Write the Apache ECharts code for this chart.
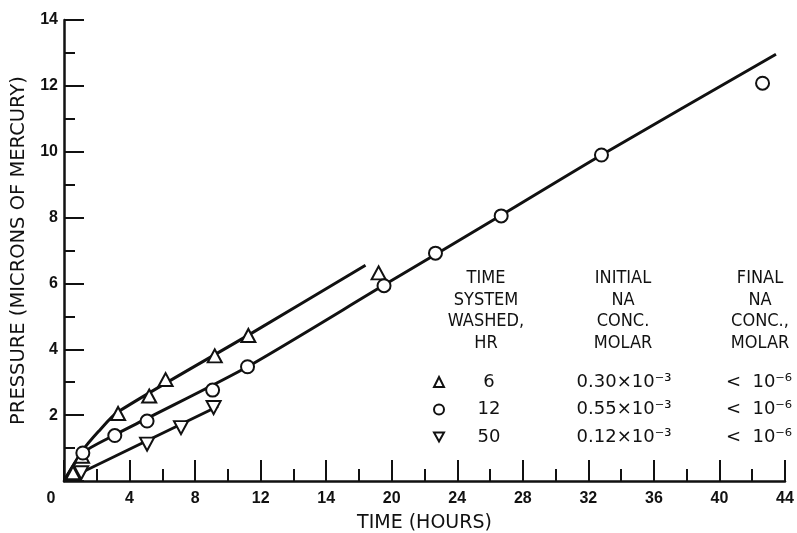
<!DOCTYPE html>
<html>
<head>
<meta charset="utf-8">
<script src="https://cdn.jsdelivr.net/npm/echarts@6/dist/echarts.min.js"></script>
<style>
html, body { margin: 0; padding: 0; background: #fff; }
#chart { width: 797px; height: 533px; }
</style>
</head>
<body>
<div id="chart"></div>
<script>
// readings: [hours, microns of Hg]
const tri6 = [[0.55, 0.25], [1.1, 0.75], [3.3, 2.05], [5.2, 2.58], [6.2, 3.08], [9.2, 3.8], [11.25, 4.42], [19.2, 6.32]];
const circ12 = [[1.15, 0.85], [3.1, 1.38], [5.07, 1.82], [9.07, 2.76], [11.2, 3.47], [19.53, 5.93], [22.67, 6.92], [26.68, 8.05], [32.8, 9.9], [42.63, 12.08]];
const dtri50 = [[1.05, 0.25], [5.07, 1.12], [7.14, 1.62], [9.13, 2.23]];

// the drawn curves
const fit6 = [[0, 0], [1.1, 0.9], [2.1, 1.5], [3.3, 2.1], [11.25, 4.43], [18.4, 6.55]];
const fit12 = [[0, 0], [1.15, 0.85], [3.1, 1.4], [5.07, 1.9], [11.2, 3.47], [19.53, 5.95], [26.68, 8.07], [32.8, 9.9], [43.45, 12.96]];
const fit50 = [[0, 0], [9.4, 2.27]];

// x tick labels as printed (the 16 is printed as 14)
const xTickLabels = ['0', '4', '8', '12', '14', '20', '24', '28', '32', '36', '40', '44'];

// table in the plot
const washHours = ['6', '12', '50'];
const initialConc = ['0.30×10⁻³', '0.55×10⁻³', '0.12×10⁻³'];
const finalConc = ['<  10⁻⁶', '<  10⁻⁶', '<  10⁻⁶'];
const tableHeads = [
    ['TIME', 'SYSTEM', 'WASHED,', 'HR'],
    ['INITIAL', 'NA', 'CONC.', 'MOLAR'],
    ['FINAL', 'NA', 'CONC.,', 'MOLAR']
];
const headX = [486, 623, 760];

const ink = '#111';
const downTri = 'path://M0,0L10,0L5,9Z';

const chart = echarts.init(document.getElementById('chart'));

function fitLine(data) {
    return {
        type: 'line', data: data, symbol: 'none', smooth: 0.25, silent: true, z: 2,
        lineStyle: {color: ink, width: 3}
    };
}

function marks(name, data, symbol, size) {
    return {
        type: 'scatter', name: name, data: data, symbol: symbol, symbolSize: size, z: 3,
        itemStyle: {color: '#fff', borderColor: ink, borderWidth: 2, opacity: 1}
    };
}

const rowFont = {fontFamily: 'DejaVu Sans', fontSize: 18, color: ink, lineHeight: 20};

const option = {
    backgroundColor: '#fff',
    animation: false,
    grid: {left: 64, right: 12, top: 20, bottom: 52, outerBoundsMode: 'none', containLabel: false},
    xAxis: {
        type: 'value', min: 0, max: 44, interval: 4,
        name: 'TIME (HOURS)', nameLocation: 'middle', nameGap: 33,
        nameTextStyle: {fontFamily: 'DejaVu Sans', fontSize: 19, color: ink},
        axisLine: {show: true, onZero: false, lineStyle: {color: ink, width: 2.5}},
        axisTick: {show: true, inside: true, length: 21, lineStyle: {color: ink, width: 2}},
        minorTick: {show: true, splitNumber: 2, length: 12, lineStyle: {color: ink, width: 2}},
        splitLine: {show: false},
        axisLabel: {
            margin: 10, color: ink, fontFamily: 'Liberation Sans', fontWeight: 'bold', fontSize: 16,
            formatter: v => v === 0 ? '{z|0}' : xTickLabels[v / 4],
            rich: {z: {padding: [0, 26, 0, 0], fontFamily: 'Liberation Sans', fontWeight: 'bold', fontSize: 16, color: ink}}
        }
    },
    yAxis: {
        type: 'value', min: 0, max: 14, interval: 2,
        name: 'PRESSURE (MICRONS OF MERCURY)', nameLocation: 'middle', nameGap: 27,
        nameTextStyle: {fontFamily: 'DejaVu Sans', fontSize: 19.5, color: ink},
        axisLine: {show: true, onZero: false, lineStyle: {color: ink, width: 2.5}},
        axisTick: {show: true, inside: true, length: 20, lineStyle: {color: ink, width: 2}},
        minorTick: {show: true, splitNumber: 2, length: 11, lineStyle: {color: ink, width: 2}},
        splitLine: {show: false},
        axisLabel: {
            margin: 6, color: ink, fontFamily: 'Liberation Sans', fontWeight: 'bold', fontSize: 16,
            formatter: v => v === 0 ? '' : String(v)
        }
    },
    legend: {
        data: washHours,
        orient: 'vertical', left: 433, top: 372, padding: 0,
        itemWidth: 10, itemHeight: 10, itemGap: 7.5, selectedMode: false,
        formatter: name => {
            const i = washHours.indexOf(name);
            return '{h|' + name + '}{i|' + initialConc[i] + '}{f|' + finalConc[i] + '}';
        },
        textStyle: Object.assign({}, rowFont, {
            rich: {
                h: Object.assign({width: 80, align: 'center'}, rowFont),
                i: Object.assign({width: 190, align: 'center'}, rowFont),
                f: Object.assign({width: 80, align: 'center'}, rowFont)
            }
        })
    },
    graphic: tableHeads.map((lines, k) => ({
        type: 'text', x: headX[k], y: 267.5, silent: true,
        style: {
            text: lines.join('\n'), textAlign: 'center', textVerticalAlign: 'top',
            font: '18px "DejaVu Sans Condensed", "DejaVu Sans", sans-serif',
            lineHeight: 21.7, fill: ink
        }
    })),
    series: [
        fitLine(fit6),
        fitLine(fit12),
        fitLine(fit50),
        marks(washHours[0], tri6, 'triangle', [14, 13]),
        marks(washHours[1], circ12, 'circle', 13),
        marks(washHours[2], dtri50, downTri, [14, 13])
    ]
};

chart.setOption(option);
</script>
</body>
</html>
